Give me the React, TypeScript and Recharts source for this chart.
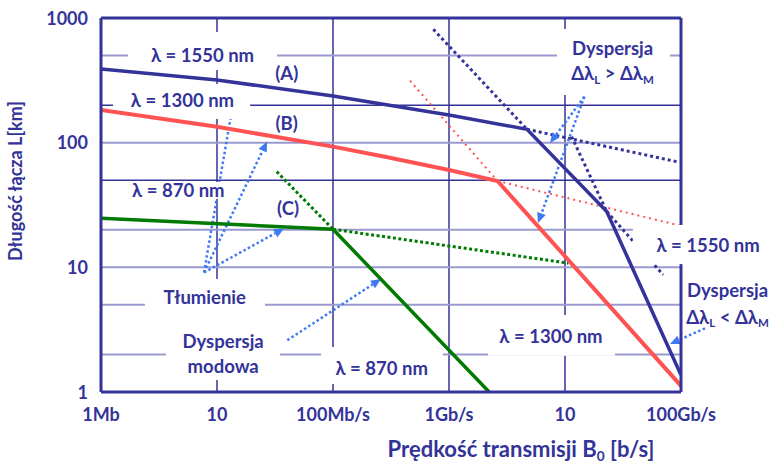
import React from "react";
import { LineChart, Line, XAxis, YAxis, CartesianGrid, ReferenceLine, ReferenceArea, ReferenceDot } from "recharts";

const NAVY = "#333399";
const RED = "#ff5353";
const GREEN = "#007a00";
const ARROW = "#3f7af2";
const FONT = "Lato, 'Open Sans', sans-serif";

// axes (log-log)
const rateTicks = [1e6, 1e7, 1e8, 1e9, 1e10, 1e11];
const rateTickLabels = ["1Mb", "10", "100Mb/s", "1Gb/s", "10", "100Gb/s"];
const lengthTicks = [1, 10, 100, 1000];
const lengthTickLabels = ["1", "10", "100", "1000"];
const gridLight = [2, 5, 10, 20, 100, 500];
const gridDark = [50, 200];

// solid curves: [bit rate, length km]
const fiber1550 = [[1e6, 390], [1e7, 318], [1e8, 237], [1e9, 167], [4.7e9, 128], [2.29e10, 28], [1e11, 1.37]];
const fiber1300 = [[1e6, 183], [1e7, 134], [1e8, 93], [2.81e8, 77.2], [1e9, 60.4], [2.62e9, 49.3], [1e11, 1.12]];
const fiber870 = [[1e6, 24.8], [1e8, 20.2], [2.22e9, 1]];

// dotted extensions
const ext1550 = [
  [[7.33e8, 811], [4.7e9, 128]],
  [[4.7e9, 128], [9.18e10, 70.4]],
  [[1.14e10, 112], [2.29e10, 28]],
  [[2.29e10, 28], [7.03e10, 8.7]],
];
const ext1300 = [
  [[4.61e8, 314], [2.62e9, 49.3]],
  [[2.62e9, 49.3], [1e11, 21.5]],
];
const ext870 = [
  [[3.27e7, 58.6], [1e8, 20.2]],
  [[1e8, 20.2], [1.07e10, 10.8]],
];

// annotation arrows: from -> to
const arrows = [
  [[7.73e6, 9.1], [1.46e7, 285]],
  [[7.73e6, 9.1], [2.7e7, 102]],
  [[7.73e6, 9.1], [3.78e7, 20.5]],
  [[4.04e7, 2.6], [2.59e8, 8.07]],
  [[1.47e10, 234], [7.43e9, 99.5]],
  [[1.47e10, 234], [5.85e9, 22.7]],
  [[1.61e11, 3.24], [8.04e10, 2.43]],
];

// white boxes behind labels: x1, x2, y1, y2
const labelBoxes = [
  [1.71e6, 3.29e7, 383, 772],
  [1.27e6, 1.93e7, 155, 296],
  [1.85e6, 1.15e7, 35.4, 48.4],
  [2.39e6, 2.59e7, 3.93, 8.07],
  [3.63e6, 3.49e7, 1.25, 3.93],
  [7.89e7, 8.87e8, 1.16, 2.3],
  [2.17e9, 2.7e10, 1.95, 4.15],
  [8.53e9, 8.04e10, 241, 816],
  [3.85e10, 5.4e11, 10.6, 21.9],
];

// text notes: x, y, text ("_" marks a subscript letter)
const notes: [number, number, string][] = [
  [7.5e6, 505, "λ = 1550 nm"],
  [3.99e7, 360, "(A)"],
  [5.04e6, 220, "λ = 1300 nm"],
  [3.99e7, 143, "(B)"],
  [4.64e6, 41.7, "λ = 870 nm"],
  [4.09e7, 29.9, "(C)"],
  [7.83e6, 5.79, "Tłumienie"],
  [1.13e7, 2.55, "Dyspersja"],
  [1.13e7, 1.62, "modowa"],
  [2.63e8, 1.55, "λ = 870 nm"],
  [7.57e9, 2.82, "λ = 1300 nm"],
  [2.57e10, 571, "Dyspersja"],
  [2.57e10, 360, "Δλ_L > Δλ_M"],
  [1.71e11, 15.1, "λ = 1550 nm"],
  [2.52e11, 6.59, "Dyspersja"],
  [2.52e11, 4.0, "Δλ_L < Δλ_M"],
];

const toPts = (pts: number[][]) => pts.map(([x, y]) => ({ x, y }));

function rich(text: string, size: number) {
  const parts = text.split(/(_.)/).filter(Boolean);
  const out: React.ReactNode[] = [];
  let sub = false;
  parts.forEach((p, i) => {
    if (p.startsWith("_")) {
      out.push(<tspan key={i} fontSize={size * 0.62} dy={size * 0.2}>{p.slice(1)}</tspan>);
      sub = true;
    } else {
      out.push(<tspan key={i} dy={sub ? -size * 0.2 : 0}>{p}</tspan>);
      sub = false;
    }
  });
  return out;
}

const NoteText = (size: number, text: string) => (p: any) => (
  <text x={p.cx} y={p.cy + size * 0.36} textAnchor="middle" fill={NAVY} fontFamily={FONT} fontWeight={700} fontSize={size}>
    {rich(text, size)}
  </text>
);

const ArrowShape = (p: any) => {
  const { x1, y1, x2, y2 } = p;
  const dx = x2 - x1, dy = y2 - y1;
  const len = Math.hypot(dx, dy) || 1;
  const ux = dx / len, uy = dy / len;
  const head = 10, half = 4.5;
  const bx = x2 - ux * head, by = y2 - uy * head;
  return (
    <g>
      <line x1={x1} y1={y1} x2={bx} y2={by} stroke={ARROW} strokeWidth={2.5} strokeDasharray="2.5 2.5" />
      <polygon
        points={`${x2},${y2} ${bx - uy * half},${by + ux * half} ${bx + uy * half},${by - ux * half}`}
        fill={ARROW}
      />
    </g>
  );
};

const RateTick = (p: any) => (
  <text x={p.x} y={p.y + 29} textAnchor="middle" fill={NAVY} fontFamily={FONT} fontWeight={700} fontSize={18}>
    {rateTickLabels[p.index]}
  </text>
);

const LengthTick = (p: any) => (
  <text x={p.x - 13} y={p.y + 6.5} textAnchor="end" fill={NAVY} fontFamily={FONT} fontWeight={700} fontSize={18}>
    {lengthTickLabels[p.index]}
  </text>
);

const YTitle = () => (
  <text x={22} y={181} transform="rotate(-90 22 181)" textAnchor="middle" fill={NAVY} fontFamily={FONT} fontWeight={700} fontSize={18}>
    Długość łącza L[km]
  </text>
);

const XTitle = () => (
  <text x={521} y={457} textAnchor="middle" fill={NAVY} fontFamily={FONT} fontWeight={700} fontSize={22}>
    {rich("Prędkość transmisji B_0 [b/s]", 22)}
  </text>
);

export default function App() {
  return (
    <div style={{ position: "absolute", left: 0, top: 0, width: 770, height: 464, background: "#fff" }}>
      <LineChart width={770} height={464} margin={{ top: 18, right: 89, bottom: 32, left: 41 }}>
        <CartesianGrid horizontal={false} stroke={NAVY} strokeWidth={1.5} verticalValues={rateTicks} />
        <CartesianGrid vertical={false} stroke="#9a9ad0" strokeWidth={2} horizontalValues={gridLight} />
        <CartesianGrid vertical={false} stroke={NAVY} strokeWidth={1.5} horizontalValues={gridDark} />
        <XAxis
          type="number"
          dataKey="x"
          scale="log"
          domain={[1e6, 1e11]}
          ticks={rateTicks}
          allowDataOverflow
          tickLine={false}
          tickSize={0}
          tickMargin={0}
          height={40}
          axisLine={{ stroke: NAVY, strokeWidth: 3 }}
          tick={RateTick}
          label={{ content: XTitle }}
        />
        <YAxis
          type="number"
          dataKey="y"
          scale="log"
          domain={[1, 1000]}
          ticks={lengthTicks}
          allowDataOverflow
          tickLine={false}
          tickSize={0}
          tickMargin={0}
          width={60}
          axisLine={{ stroke: NAVY, strokeWidth: 3 }}
          tick={LengthTick}
          label={{ content: YTitle }}
        />

        {ext1550.map((s, i) => (
          <Line key={`e1550-${i}`} data={toPts(s)} dataKey="y" stroke={NAVY} strokeWidth={3} strokeDasharray="3 3"
            dot={false} activeDot={false} isAnimationActive={false} zIndex={50} />
        ))}
        {ext1300.map((s, i) => (
          <Line key={`e1300-${i}`} data={toPts(s)} dataKey="y" stroke={RED} strokeWidth={2} strokeDasharray="2 4"
            dot={false} activeDot={false} isAnimationActive={false} zIndex={50} />
        ))}
        {ext870.map((s, i) => (
          <Line key={`e870-${i}`} data={toPts(s)} dataKey="y" stroke={GREEN} strokeWidth={3} strokeDasharray="3 2.5"
            dot={false} activeDot={false} isAnimationActive={false} zIndex={50} />
        ))}

        {arrows.map(([a, b], i) => (
          <ReferenceLine key={`arr-${i}`} segment={[{ x: a[0], y: a[1] }, { x: b[0], y: b[1] }]} ifOverflow="visible"
            shape={ArrowShape} zIndex={60} />
        ))}

        {labelBoxes.map(([x1, x2, y1, y2], i) => (
          <ReferenceArea key={`box-${i}`} x1={x1} x2={x2} y1={y1} y2={y2} fill="#ffffff" fillOpacity={1}
            stroke="none" ifOverflow="visible" zIndex={100} />
        ))}

        <Line data={toPts(fiber1300)} dataKey="y" stroke={RED} strokeWidth={4} dot={false} activeDot={false}
          isAnimationActive={false} zIndex={400} />
        <Line data={toPts(fiber870)} dataKey="y" stroke={GREEN} strokeWidth={3.5} dot={false} activeDot={false}
          isAnimationActive={false} zIndex={400} />
        <Line data={toPts(fiber1550)} dataKey="y" stroke={NAVY} strokeWidth={3.5} dot={false} activeDot={false}
          isAnimationActive={false} zIndex={400} />

        <ReferenceLine segment={[{ x: 1e6, y: 1000 }, { x: 1e11, y: 1000 }]} stroke={NAVY} strokeWidth={3} ifOverflow="visible" zIndex={450} />
        <ReferenceLine segment={[{ x: 1e11, y: 1000 }, { x: 1e11, y: 21.9 }]} stroke={NAVY} strokeWidth={3} ifOverflow="visible" zIndex={450} />
        <ReferenceLine segment={[{ x: 1e11, y: 10.6 }, { x: 1e11, y: 1 }]} stroke={NAVY} strokeWidth={3} ifOverflow="visible" zIndex={450} />

        {notes.map(([x, y, t], i) => (
          <ReferenceDot key={`note-${i}`} x={x} y={y} r={1} ifOverflow="visible" shape={NoteText(18.5, t)} zIndex={600} />
        ))}
      </LineChart>
    </div>
  );
}
